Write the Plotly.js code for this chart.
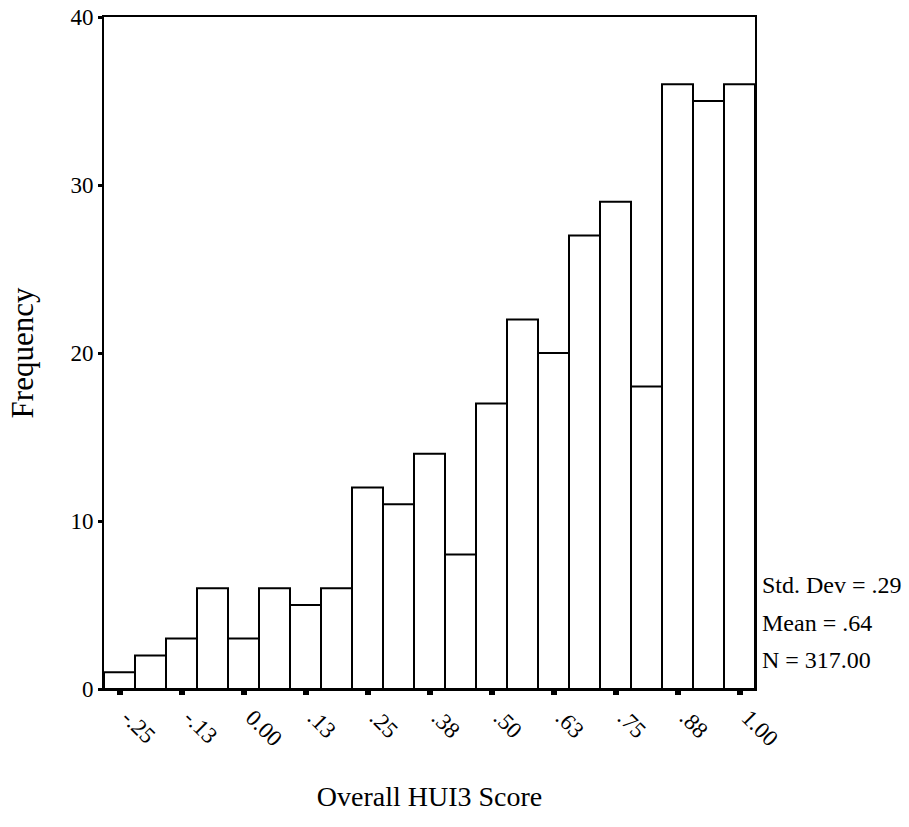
<!DOCTYPE html>
<html>
<head>
<meta charset="utf-8">
<script src="https://cdn.plot.ly/plotly-3.0.1.min.js"></script>
<style>
html,body{margin:0;padding:0;background:#fff;}
#chart{width:909px;height:827px;}
</style>
</head>
<body>
<div id="chart"></div>
<script>
// Bin centres of the histogram (HUI3 score)
const binCenters = [-0.25, -0.1875, -0.125, -0.0625, 0.0, 0.0625, 0.125, 0.1875, 0.25, 0.3125, 0.375,
                    0.4375, 0.5, 0.5625, 0.625, 0.6875, 0.75, 0.8125, 0.875, 0.9375, 1.0];
// Frequencies
const frequencies = [1, 2, 3, 6, 3, 6, 5, 6, 12, 11, 14, 8, 17, 22, 20, 27, 29, 18, 36, 35, 36];
// Tick positions and labels
const tickValues = [-0.25, -0.125, 0.0, 0.125, 0.25, 0.375, 0.5, 0.625, 0.75, 0.875, 1.0];
const tickLabels = ["-.25", "-.13", "0.00", ".13", ".25", ".38", ".50", ".63", ".75", ".88", "1.00"];
const yTickValues = [0, 10, 20, 30, 40];
const statLines = ["Std. Dev = .29", "Mean = .64", "N = 317.00"];

const serif = "Liberation Serif, Times New Roman, serif";

const trace = {
  type: "bar",
  x: binCenters,
  y: frequencies,
  width: 0.0625,
  marker: {color: "#ffffff", line: {color: "#000000", width: 2}},
  hoverinfo: "x+y"
};

const statY = [0.1548, 0.0982, 0.0432];
const annotations = statLines.map((t, i) => ({
  text: t, xref: "paper", yref: "paper", x: 1, y: statY[i],
  xanchor: "left", yanchor: "middle", xshift: 5, showarrow: false,
  font: {family: serif, size: 24, color: "#000"}
}));

const layout = {
  width: 909, height: 827,
  margin: {l: 104, r: 154, t: 17, b: 138},
  paper_bgcolor: "#fff", plot_bgcolor: "#fff",
  showlegend: false,
  bargap: 0,
  font: {family: serif, color: "#000"},
  xaxis: {
    range: [-0.28125, 1.03125],
    tickmode: "array", tickvals: tickValues, ticktext: tickLabels,
    tickangle: 45,
    ticklabelshift: 9,
    ticks: "outside", ticklen: 4, tickwidth: 6, tickcolor: "#000",
    tickfont: {family: serif, size: 23, color: "#000"},
    showgrid: false, zeroline: false,
    showline: true, linecolor: "#000", linewidth: 2, mirror: true,
    title: {text: "Overall HUI3 Score", font: {family: serif, size: 28, color: "#000"}, standoff: 36}
  },
  yaxis: {
    range: [0, 40],
    tickmode: "array", tickvals: yTickValues,
    ticks: "outside", ticklen: 4, tickwidth: 3, tickcolor: "#000",
    tickfont: {family: serif, size: 23, color: "#000"},
    showgrid: false, zeroline: false,
    showline: true, linecolor: "#000", linewidth: 2, mirror: true,
    title: {text: "Frequency", font: {family: serif, size: 31, color: "#000"}, standoff: 28}
  },
  annotations: annotations
};

Plotly.newPlot("chart", [trace], layout, {staticPlot: true, displayModeBar: false});
</script>
</body>
</html>
